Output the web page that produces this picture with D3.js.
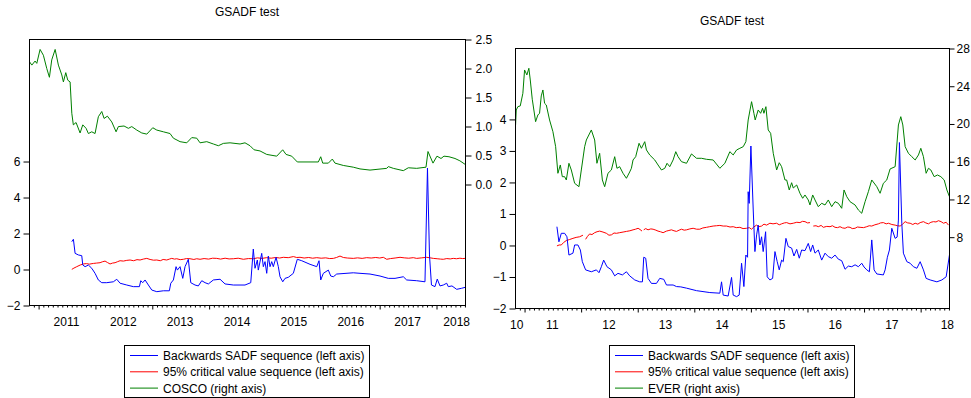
<!DOCTYPE html>
<html><head><meta charset="utf-8">
<script src="https://cdn.jsdelivr.net/npm/d3@7/dist/d3.min.js"></script>
<style>
body{margin:0;background:#fff;}
text{font-family:"Liberation Sans",Arial,sans-serif;font-size:12px;fill:#000;}
</style>
</head><body>
<svg id="c" width="971" height="398"></svg>
<script>
// ---------- data (time in fractional years) ----------
const xDomain = [2010.84, 2018.51];

const leftYearLabels = ["2011","2012","2013","2014","2015","2016","2017","2018"];
const leftYearStarts = [2011,2012,2013,2014,2015,2016,2017,2018];
const rightYearLabels = ["10","11","12","13","14","15","16","17","18"];
const rightYearStarts = [2010,2011,2012,2013,2014,2015,2016,2017,2018];

const leftLeftTicks = [-2,0,2,4,6];
const leftRightTicks = [0,0.5,1,1.5,2,2.5];
const rightLeftTicks = [-2,-1,0,1,2,3,4];
const rightRightTicks = [8,12,16,20,24,28];

const legendLeft = ["Backwards SADF sequence (left axis)","95% critical value sequence (left axis)","COSCO (right axis)"];
const legendRight = ["Backwards SADF sequence (left axis)","95% critical value sequence (left axis)","EVER (right axis)"];

// COSCO panel
const coscoSadf = [[2011.593,1.52],[2011.621,1.65],[2011.651,0.87],[2011.709,0.78],[2011.768,0.74],[2011.786,0.22],[2011.827,0.13],[2011.885,0.22],[2011.944,0.04],[2012.002,-0.24],[2012.06,-0.61],[2012.12,-0.76],[2012.208,-0.76],[2012.324,-0.71],[2012.384,-0.57],[2012.442,-0.79],[2012.56,-0.89],[2012.676,-0.98],[2012.782,-0.98],[2012.806,-0.65],[2012.841,-0.76],[2012.882,-0.61],[2012.94,-0.89],[2013.0,-1.17],[2013.088,-1.26],[2013.204,-1.21],[2013.309,-1.21],[2013.334,-0.79],[2013.38,-0.61],[2013.427,0.13],[2013.45,-0.06],[2013.497,0.13],[2013.545,-0.52],[2013.585,0.13],[2013.643,0.54],[2013.686,-0.76],[2013.761,-0.89],[2013.819,-0.94],[2013.879,-0.65],[2013.937,-0.76],[2013.995,-0.83],[2014.083,-0.61],[2014.201,-0.57],[2014.289,-0.83],[2014.435,-0.89],[2014.64,-0.89],[2014.741,-0.76],[2014.786,1.11],[2014.816,0.04],[2014.857,0.50],[2014.874,-0.06],[2014.934,0.87],[2014.962,0.13],[2014.992,0.41],[2015.022,-0.24],[2015.05,0.72],[2015.08,0.13],[2015.11,0.41],[2015.138,0.13],[2015.186,0.65],[2015.226,0.13],[2015.256,-0.43],[2015.304,-0.71],[2015.344,-0.52],[2015.402,-0.46],[2015.49,-0.24],[2015.56,0.54],[2015.638,0.46],[2015.784,0.26],[2015.902,0.13],[2015.942,0.46],[2015.972,-0.61],[2016.018,-0.24],[2016.106,-0.06],[2016.148,-0.39],[2016.194,-0.43],[2016.253,-0.28],[2016.545,-0.21],[2016.663,-0.24],[2016.839,-0.28],[2017.015,-0.39],[2017.161,-0.52],[2017.279,-0.52],[2017.425,-0.43],[2017.484,-0.61],[2017.66,-0.65],[2017.806,-0.71],[2017.85,5.61],[2017.885,0.78],[2017.92,-0.89],[2017.982,-0.98],[2018.022,-0.56],[2018.07,-0.94],[2018.128,-0.89],[2018.188,-0.79],[2018.216,-0.98],[2018.281,-0.94],[2018.364,-1.13],[2018.452,-1.07],[2018.51,-1.02]];

const coscoCrit = [[2011.593,-0.02],[2011.63,0.05],[2011.68,0.13],[2011.74,0.22],[2011.797,0.28],[2011.85,0.30],[2011.90,0.27],[2011.973,0.31],[2012.03,0.33],[2012.09,0.35],[2012.13,0.40],[2012.178,0.44],[2012.22,0.36],[2012.266,0.28],[2012.31,0.33],[2012.354,0.35],[2012.40,0.41],[2012.442,0.46],[2012.50,0.44],[2012.56,0.48],[2012.618,0.50],[2012.68,0.46],[2012.74,0.52],[2012.794,0.50],[2012.85,0.55],[2012.912,0.59],[2012.97,0.53],[2013.03,0.49],[2013.088,0.50],[2013.15,0.46],[2013.20,0.53],[2013.263,0.50],[2013.31,0.55],[2013.351,0.59],[2013.40,0.55],[2013.439,0.57],[2013.50,0.52],[2013.556,0.54],[2013.61,0.58],[2013.673,0.57],[2013.74,0.53],[2013.79,0.57],[2013.849,0.54],[2013.92,0.58],[2014.0,0.55],[2014.07,0.60],[2014.143,0.59],[2014.21,0.55],[2014.29,0.60],[2014.36,0.56],[2014.435,0.57],[2014.52,0.60],[2014.611,0.54],[2014.70,0.58],[2014.787,0.57],[2014.86,0.62],[2014.94,0.59],[2015.022,0.63],[2015.10,0.60],[2015.18,0.64],[2015.25,0.61],[2015.314,0.65],[2015.40,0.63],[2015.49,0.69],[2015.55,0.64],[2015.608,0.65],[2015.68,0.61],[2015.76,0.64],[2015.83,0.60],[2015.902,0.63],[2015.98,0.60],[2016.06,0.62],[2016.13,0.58],[2016.194,0.59],[2016.25,0.64],[2016.311,0.72],[2016.37,0.64],[2016.44,0.61],[2016.545,0.59],[2016.62,0.62],[2016.70,0.59],[2016.781,0.63],[2016.86,0.61],[2016.94,0.64],[2017.01,0.61],[2017.073,0.65],[2017.133,0.54],[2017.20,0.58],[2017.28,0.61],[2017.367,0.65],[2017.44,0.62],[2017.52,0.60],[2017.60,0.63],[2017.66,0.59],[2017.75,0.62],[2017.836,0.65],[2017.90,0.62],[2017.953,0.59],[2018.02,0.57],[2018.08,0.55],[2018.128,0.54],[2018.19,0.58],[2018.25,0.56],[2018.304,0.59],[2018.36,0.57],[2018.42,0.60],[2018.47,0.58],[2018.51,0.59]];

const coscoPrice = [[2010.847,2.11],[2010.89,2.05],[2010.947,2.12],[2010.977,2.08],[2011.035,2.32],[2011.093,2.22],[2011.153,1.99],[2011.199,1.84],[2011.24,2.14],[2011.30,2.32],[2011.357,2.05],[2011.417,1.88],[2011.445,1.76],[2011.487,1.92],[2011.522,1.79],[2011.563,1.76],[2011.593,1.22],[2011.62,1.02],[2011.668,1.06],[2011.739,0.88],[2011.786,1.02],[2011.844,0.96],[2011.885,0.87],[2011.944,0.90],[2012.002,0.87],[2012.06,1.16],[2012.12,1.25],[2012.161,1.13],[2012.219,1.17],[2012.296,1.07],[2012.372,0.90],[2012.412,0.99],[2012.512,1.00],[2012.588,0.96],[2012.648,0.99],[2012.736,0.93],[2012.824,0.88],[2012.912,0.86],[2013.017,0.97],[2013.088,0.93],[2013.204,0.90],[2013.321,0.87],[2013.38,0.79],[2013.497,0.73],[2013.615,0.71],[2013.703,0.80],[2013.791,0.79],[2013.849,0.71],[2013.967,0.73],[2014.083,0.69],[2014.171,0.66],[2014.259,0.70],[2014.377,0.71],[2014.553,0.69],[2014.64,0.71],[2014.728,0.66],[2014.799,0.59],[2014.904,0.57],[2015.022,0.51],[2015.198,0.48],[2015.303,0.59],[2015.362,0.51],[2015.462,0.48],[2015.56,0.38],[2015.93,0.38],[2015.972,0.47],[2016.007,0.36],[2016.106,0.36],[2016.176,0.43],[2016.223,0.36],[2016.369,0.32],[2016.545,0.29],[2016.663,0.26],[2016.839,0.24],[2017.133,0.27],[2017.161,0.30],[2017.249,0.27],[2017.425,0.23],[2017.513,0.28],[2017.66,0.27],[2017.824,0.29],[2017.859,0.56],[2017.947,0.36],[2018.017,0.48],[2018.088,0.44],[2018.14,0.48],[2018.228,0.47],[2018.334,0.44],[2018.42,0.40],[2018.51,0.34]];

// EVER panel
const everSadf = [[2011.581,0.58],[2011.616,0.10],[2011.658,0.37],[2011.717,0.37],[2011.758,0.26],[2011.793,-0.32],[2011.864,-0.26],[2011.894,0.0],[2011.952,0.0],[2011.995,-0.16],[2012.03,-0.53],[2012.088,-0.79],[2012.189,-0.85],[2012.278,-0.79],[2012.324,-0.88],[2012.366,-0.69],[2012.407,-0.48],[2012.465,-0.69],[2012.543,-0.79],[2012.602,-0.98],[2012.66,-0.90],[2012.738,-0.95],[2012.809,-0.85],[2012.867,-0.98],[2012.956,-1.11],[2013.044,-1.17],[2013.092,-1.17],[2013.115,-0.39],[2013.15,-0.42],[2013.191,-1.06],[2013.251,-1.22],[2013.34,-1.22],[2013.398,-1.06],[2013.469,-1.09],[2013.517,-1.27],[2013.634,-1.27],[2013.694,-1.32],[2013.77,-1.33],[2013.871,-1.37],[2014.048,-1.45],[2014.283,-1.51],[2014.46,-1.53],[2014.49,-1.17],[2014.519,-1.59],[2014.607,-1.62],[2014.667,-1.03],[2014.696,-1.59],[2014.756,-1.64],[2014.802,-1.59],[2014.844,-0.58],[2014.885,-1.32],[2014.92,-0.32],[2014.95,-0.39],[2014.961,1.69],[2014.979,1.32],[2015.009,3.14],[2015.05,1.11],[2015.08,-0.21],[2015.11,0.32],[2015.138,0.63],[2015.168,0.0],[2015.198,0.26],[2015.226,-0.21],[2015.269,0.42],[2015.297,-1.01],[2015.345,-1.11],[2015.393,-1.06],[2015.434,-0.21],[2015.474,-0.53],[2015.51,-0.79],[2015.552,-0.48],[2015.581,-0.53],[2015.628,0.21],[2015.669,-0.05],[2015.729,-0.10],[2015.77,-0.35],[2015.818,-0.14],[2015.864,-0.42],[2015.906,-0.16],[2015.965,-0.18],[2016.023,0.05],[2016.065,-0.21],[2016.101,0.0],[2016.142,-0.26],[2016.2,-0.16],[2016.26,-0.48],[2016.319,-0.26],[2016.377,-0.37],[2016.437,-0.42],[2016.496,-0.32],[2016.554,-0.45],[2016.614,-0.50],[2016.673,-0.77],[2016.731,-0.67],[2016.791,-0.69],[2016.85,-0.63],[2016.908,-0.69],[2016.968,-0.58],[2017.009,-0.70],[2017.057,-0.79],[2017.103,-0.85],[2017.145,0.16],[2017.186,-0.79],[2017.234,-0.92],[2017.35,-0.95],[2017.381,-0.79],[2017.421,-0.39],[2017.457,-0.16],[2017.499,0.53],[2017.558,0.21],[2017.593,0.25],[2017.616,0.79],[2017.634,3.25],[2017.676,0.69],[2017.704,-0.26],[2017.765,-0.53],[2017.823,-0.58],[2017.881,-0.69],[2017.942,-0.74],[2018.0,-0.53],[2018.058,-0.79],[2018.106,-1.06],[2018.177,-1.11],[2018.296,-1.17],[2018.384,-1.11],[2018.46,-1.01],[2018.518,-0.32]];

const everCrit = [[2011.581,-0.03],[2011.62,0.0],[2011.658,0.0],[2011.70,0.08],[2011.747,0.14],[2011.80,0.17],[2011.864,0.21],[2011.92,0.24],[2011.982,0.26],[2012.041,0.31],[2012.06,null],[2012.088,0.18],[2012.12,0.27],[2012.159,0.35],[2012.20,0.33],[2012.248,0.39],[2012.29,0.42],[2012.336,0.44],[2012.395,0.41],[2012.455,0.37],[2012.50,0.31],[2012.543,0.32],[2012.59,0.38],[2012.632,0.37],[2012.69,0.39],[2012.75,0.41],[2012.809,0.43],[2012.87,0.45],[2012.926,0.48],[2012.97,0.50],[2013.015,0.53],[2013.05,0.49],[2013.085,0.44],[2013.10,null],[2013.115,0.48],[2013.15,0.52],[2013.191,0.48],[2013.24,0.51],[2013.28,0.50],[2013.33,0.47],[2013.368,0.44],[2013.41,0.42],[2013.457,0.39],[2013.517,0.44],[2013.56,0.46],[2013.605,0.48],[2013.65,0.45],[2013.694,0.43],[2013.74,0.47],[2013.782,0.50],[2013.83,0.47],[2013.871,0.48],[2013.93,0.51],[2013.988,0.53],[2014.05,0.50],[2014.106,0.50],[2014.16,0.54],[2014.224,0.56],[2014.28,0.58],[2014.342,0.60],[2014.40,0.61],[2014.46,0.62],[2014.52,0.60],[2014.578,0.60],[2014.64,0.57],[2014.696,0.58],[2014.75,0.55],[2014.814,0.56],[2014.87,0.52],[2014.932,0.53],[2014.98,0.55],[2015.021,0.50],[2015.06,0.57],[2015.109,0.63],[2015.15,0.58],[2015.198,0.60],[2015.24,0.66],[2015.287,0.63],[2015.345,0.69],[2015.40,0.67],[2015.463,0.69],[2015.51,0.64],[2015.552,0.67],[2015.60,0.70],[2015.641,0.71],[2015.70,0.67],[2015.758,0.69],[2015.82,0.72],[2015.876,0.71],[2015.92,0.75],[2015.965,0.74],[2016.01,0.70],[2016.053,0.71],[2016.08,null],[2016.112,0.60],[2016.16,0.61],[2016.2,0.58],[2016.25,0.62],[2016.289,0.56],[2016.35,0.59],[2016.407,0.58],[2016.45,0.61],[2016.496,0.56],[2016.54,0.55],[2016.584,0.58],[2016.63,0.54],[2016.673,0.53],[2016.72,0.57],[2016.761,0.56],[2016.80,0.52],[2016.85,0.53],[2016.89,0.57],[2016.938,0.56],[2017.0,0.55],[2017.056,0.58],[2017.10,0.61],[2017.145,0.60],[2017.20,0.64],[2017.262,0.67],[2017.30,0.70],[2017.35,0.71],[2017.40,0.67],[2017.439,0.69],[2017.50,0.65],[2017.558,0.63],[2017.60,0.61],[2017.646,0.60],[2017.69,0.66],[2017.735,0.74],[2017.78,0.70],[2017.823,0.69],[2017.87,0.65],[2017.912,0.69],[2017.96,0.66],[2018.0,0.71],[2018.059,0.74],[2018.10,0.70],[2018.147,0.67],[2018.19,0.72],[2018.236,0.74],[2018.28,0.73],[2018.324,0.77],[2018.37,0.74],[2018.413,0.69],[2018.46,0.72],[2018.501,0.63]];

const everPrice = [[2010.85,19.84],[2010.862,21.43],[2010.89,21.78],[2010.933,21.86],[2010.979,23.2],[2011.009,25.67],[2011.05,25.14],[2011.085,25.85],[2011.11,24.61],[2011.145,22.57],[2011.204,20.19],[2011.244,20.9],[2011.274,21.08],[2011.304,22.92],[2011.333,23.55],[2011.363,22.14],[2011.393,21.96],[2011.451,20.37],[2011.51,19.13],[2011.558,17.54],[2011.598,14.72],[2011.641,15.6],[2011.676,14.36],[2011.717,14.36],[2011.747,14.01],[2011.793,15.78],[2011.835,15.07],[2011.894,13.66],[2011.97,13.3],[2012.012,15.07],[2012.071,17.54],[2012.101,18.25],[2012.189,19.31],[2012.248,18.25],[2012.288,15.78],[2012.336,16.84],[2012.384,14.01],[2012.425,13.3],[2012.483,14.72],[2012.543,15.07],[2012.602,16.48],[2012.642,15.25],[2012.69,15.42],[2012.749,14.72],[2012.809,14.19],[2012.867,14.86],[2012.897,15.25],[2012.926,16.13],[2012.973,16.48],[2013.032,17.9],[2013.074,17.37],[2013.133,18.07],[2013.163,17.19],[2013.221,16.66],[2013.31,16.13],[2013.368,15.6],[2013.428,15.07],[2013.487,15.25],[2013.527,15.78],[2013.575,15.42],[2013.634,16.13],[2013.681,17.01],[2013.722,16.48],[2013.782,15.95],[2013.871,15.78],[2013.959,16.77],[2014.048,16.31],[2014.136,16.31],[2014.225,16.2],[2014.342,16.13],[2014.46,15.25],[2014.549,15.78],[2014.637,17.01],[2014.696,16.66],[2014.756,17.19],[2014.814,17.37],[2014.873,17.54],[2014.92,18.07],[2014.961,20.37],[2015.021,22.31],[2015.062,21.08],[2015.085,20.37],[2015.138,21.43],[2015.181,21.08],[2015.216,21.61],[2015.239,21.08],[2015.274,21.78],[2015.315,19.31],[2015.358,18.96],[2015.404,16.84],[2015.464,15.07],[2015.51,15.84],[2015.552,15.42],[2015.611,14.01],[2015.641,14.01],[2015.687,12.95],[2015.729,13.72],[2015.758,13.16],[2015.818,13.48],[2015.876,12.6],[2015.924,12.07],[2015.965,12.42],[2016.023,11.89],[2016.053,11.36],[2016.101,12.42],[2016.142,11.89],[2016.2,11.18],[2016.26,11.54],[2016.319,11.36],[2016.377,11.89],[2016.437,11.18],[2016.496,11.71],[2016.554,11.54],[2016.614,11.01],[2016.655,12.95],[2016.703,12.24],[2016.761,11.71],[2016.85,11.36],[2016.908,10.83],[2016.968,10.48],[2017.027,11.71],[2017.085,12.77],[2017.145,14.01],[2017.234,13.3],[2017.292,12.6],[2017.35,13.66],[2017.41,14.01],[2017.469,15.18],[2017.558,15.42],[2017.616,19.84],[2017.658,20.72],[2017.694,19.84],[2017.735,17.54],[2017.793,16.84],[2017.853,16.48],[2017.912,16.13],[2017.97,16.66],[2018.012,17.37],[2018.058,16.48],[2018.106,14.72],[2018.147,15.25],[2018.189,15.07],[2018.248,14.36],[2018.306,14.54],[2018.366,14.36],[2018.425,14.01],[2018.473,12.95],[2018.518,12.24]];

const colors = {sadf:"#0000ff", crit:"#ff0000", price:"#008000"};

// ---------- drawing ----------
const svg = d3.select("#c");

function panel(o){
  const g = svg.append("g");
  const x = d3.scaleLinear().domain(xDomain).range([o.left, o.right]);
  const yL = d3.scaleLinear().domain(o.yL).range([o.bottom, o.top]);
  const yR = d3.scaleLinear().domain(o.yR).range([o.bottom, o.top]);

  g.append("text").attr("x", o.titleX).attr("y", o.titleY)
    .attr("text-anchor","middle").text("GSADF test");

  // series
  const clipId = "clip" + o.id;
  g.append("clipPath").attr("id", clipId).append("rect")
    .attr("x", o.left).attr("y", o.top).attr("width", o.right - o.left).attr("height", o.bottom - o.top);
  const lines = g.append("g").attr("clip-path", `url(#${clipId})`);
  const mk = ys => d3.line().defined(d => d[1] !== null).x(d => x(d[0])).y(d => ys(d[1]));
  lines.append("path").datum(o.price).attr("d", mk(yR)).attr("fill","none").attr("stroke",colors.price).attr("stroke-width",1);
  lines.append("path").datum(o.crit).attr("d", mk(yL)).attr("fill","none").attr("stroke",colors.crit).attr("stroke-width",1);
  lines.append("path").datum(o.sadf).attr("d", mk(yL)).attr("fill","none").attr("stroke",colors.sadf).attr("stroke-width",1);

  // frame
  g.append("rect").attr("x", o.left + 0.5).attr("y", o.top + 0.5)
    .attr("width", o.right - o.left).attr("height", o.bottom - o.top)
    .attr("fill","none").attr("stroke","#000").attr("stroke-width",1);

  // left axis
  const aL = g.append("g").attr("transform", `translate(${o.left + 0.5},0.5)`)
    .call(d3.axisLeft(yL).tickValues(o.yLTicks).tickSize(6).tickSizeOuter(0).tickPadding(3).tickFormat(o.yLFmt));
  aL.select(".domain").remove();
  // right axis
  const aR = g.append("g").attr("transform", `translate(${o.right + 0.5},0.5)`)
    .call(d3.axisRight(yR).tickValues(o.yRTicks).tickSize(o.rTick).tickSizeOuter(0).tickPadding(o.rPad).tickFormat(o.yRFmt));
  aR.select(".domain").remove();

  // bottom axis: monthly minor, yearly major ticks
  const months = [];
  for (let yr = 2010; yr <= 2018; yr++) for (let m = 0; m < 12; m++) {
    const t = yr + m / 12;
    if (t >= xDomain[0] && t <= xDomain[1]) months.push(t);
  }
  const aMinor = g.append("g").attr("transform", `translate(0.5,${o.bottom + 0.5})`)
    .call(d3.axisBottom(x).tickValues(months.filter(t => Math.abs(t - Math.round(t)) > 1e-6)).tickSize(2).tickFormat(""));
  aMinor.select(".domain").remove();
  const aMajor = g.append("g").attr("transform", `translate(0.5,${o.bottom + 0.5})`)
    .call(d3.axisBottom(x).tickValues(months.filter(t => Math.abs(t - Math.round(t)) < 1e-6)).tickSize(4).tickFormat(""));
  aMajor.select(".domain").remove();

  // year labels centred in each year, kept near the frame
  const lab = g.append("g");
  o.yearStarts.forEach((ys, i) => {
    const t = lab.append("text").attr("y", o.bottom + o.labelDy).attr("text-anchor","middle").text(o.yearLabels[i]);
    const w = t.node().getComputedTextLength();
    let cx = x(ys + 0.5);
    cx = Math.max(o.left - 5 + w / 2, Math.min(o.right + 5 - w / 2, cx));
    t.attr("x", cx);
  });

  // legend
  const lg = g.append("g");
  lg.append("rect").attr("x", o.legX + 0.5).attr("y", 345.5).attr("width", o.legW).attr("height", 52)
    .attr("fill","#fff").attr("stroke","#000").attr("stroke-width",1);
  const cols = [colors.sadf, colors.crit, colors.price];
  o.legend.forEach((s, i) => {
    const cy = 355.5 + i * 16.3;
    lg.append("line").attr("x1", o.legX + 6).attr("x2", o.legX + 34).attr("y1", cy).attr("y2", cy)
      .attr("stroke", cols[i]).attr("stroke-width",1);
    lg.append("text").attr("x", o.legX + 39).attr("y", cy + 4.5).text(s);
  });
}

panel({id:"L", left:29, right:465, top:39, bottom:305, titleX:247, titleY:16,
  yL:[-2,12.78], yR:[-2.086,2.5], yLTicks:leftLeftTicks, yRTicks:leftRightTicks,
  yLFmt:d3.format("d"), yRFmt:d3.format(".1f"), rTick:6, rPad:4,
  yearStarts:leftYearStarts, yearLabels:leftYearLabels, labelDy:21,
  sadf:coscoSadf, crit:coscoCrit, price:coscoPrice,
  legend:legendLeft, legX:124, legW:245});

panel({id:"R", left:515, right:949, top:48, bottom:308, titleX:732, titleY:25,
  yL:[-2,6.25], yR:[0.44,28], yLTicks:rightLeftTicks, yRTicks:rightRightTicks,
  yLFmt:d3.format("d"), yRFmt:d3.format("d"), rTick:5, rPad:2,
  yearStarts:rightYearStarts, yearLabels:rightYearLabels, labelDy:21,
  sadf:everSadf, crit:everCrit, price:everPrice,
  legend:legendRight, legX:609, legW:245});
</script>
</body></html>
